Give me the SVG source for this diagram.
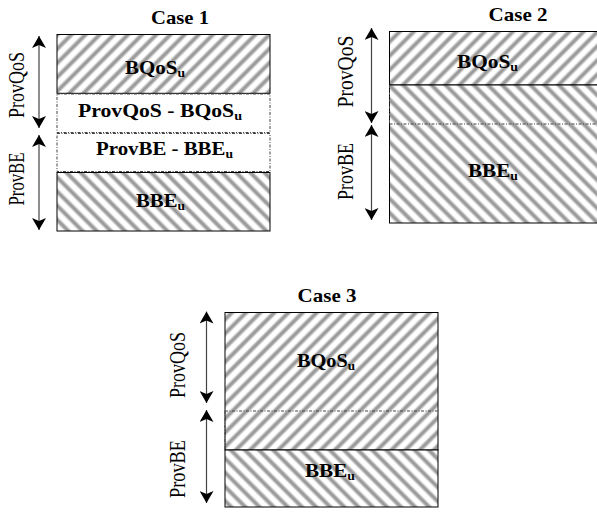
<svg xmlns="http://www.w3.org/2000/svg" width="597" height="513" viewBox="0 0 597 513">
<defs>
  <pattern id="hatchUp" width="10" height="10" patternUnits="userSpaceOnUse" patternTransform="rotate(45)">
    <rect width="10" height="10" fill="#ffffff"/>
    <rect x="2.5" y="0" width="5" height="10" fill="#cfcfcf"/>
    <rect x="3.5" y="0" width="3" height="10" fill="#9a9a9a"/>
  </pattern>
  <pattern id="hatchDown" width="10" height="10" patternUnits="userSpaceOnUse" patternTransform="rotate(-45)">
    <rect width="10" height="10" fill="#ffffff"/>
    <rect x="2.5" y="0" width="5" height="10" fill="#cfcfcf"/>
    <rect x="3.5" y="0" width="3" height="10" fill="#9a9a9a"/>
  </pattern>
  <marker id="head" viewBox="0 0 12 14" refX="12" refY="7" markerWidth="12" markerHeight="14" markerUnits="userSpaceOnUse" orient="auto-start-reverse">
    <path d="M0,0 L12,7 L0,14 L3,7 Z" fill="#000"/>
  </marker>
</defs>
<style>
  .solid { stroke:#000; stroke-width:1; }
  .dot { fill:none; stroke:#444; stroke-width:1; stroke-dasharray:3 1.5 1 1.5; }
  .lbl { font-family:"Liberation Serif","Times New Roman",serif; font-weight:bold; font-size:18.5px; fill:#000; }
  .ttl { font-family:"Liberation Serif","Times New Roman",serif; font-weight:bold; font-size:19px; fill:#000; text-anchor:middle; }
  .side { font-family:"Liberation Serif","Times New Roman",serif; font-size:18px; fill:#000; text-anchor:middle; }
  .arr { stroke:#444; stroke-width:1.2; fill:none; marker-start:url(#head); marker-end:url(#head); }
  .sub { font-size:12px; }
</style>

<g id="case1">
  <text class="ttl" x="180" y="24" textLength="58" lengthAdjust="spacingAndGlyphs">Case 1</text>
  <rect x="57" y="34.5" width="213" height="58.8" fill="url(#hatchUp)" class="solid"/>
  <rect x="57" y="94" width="213" height="38.5" class="dot"/>
  <rect x="57" y="133.5" width="213" height="38" class="dot"/>
  <rect x="57" y="172.5" width="213" height="58.5" fill="url(#hatchDown)" class="solid"/>
  <text class="lbl" x="125" y="74" textLength="60" lengthAdjust="spacingAndGlyphs">BQoS<tspan class="sub" dy="3">u</tspan></text>
  <text class="lbl" x="78" y="117" textLength="164" lengthAdjust="spacingAndGlyphs">ProvQoS - BQoS<tspan class="sub" dy="3">u</tspan></text>
  <text class="lbl" x="96" y="155" textLength="137" lengthAdjust="spacingAndGlyphs">ProvBE - BBE<tspan class="sub" dy="3">u</tspan></text>
  <text class="lbl" x="136" y="206.5" textLength="49" lengthAdjust="spacingAndGlyphs">BBE<tspan class="sub" dy="3">u</tspan></text>
  <text class="side" transform="translate(24,85) scale(1.25,1) rotate(-90)" textLength="66" lengthAdjust="spacingAndGlyphs">ProvQoS</text>
  <text class="side" transform="translate(24,179) scale(1.25,1) rotate(-90)" textLength="53" lengthAdjust="spacingAndGlyphs">ProvBE</text>
</g>

<g id="case2">
  <text class="ttl" x="518" y="21" textLength="59" lengthAdjust="spacingAndGlyphs">Case 2</text>
  <rect x="389.5" y="31.5" width="210" height="53.5" fill="url(#hatchUp)" class="solid"/>
  <rect x="389.5" y="85" width="210" height="138" fill="url(#hatchDown)" class="solid"/>
  <line x1="389.5" y1="85" x2="389.5" y2="124" class="dot"/>
  <line x1="389.5" y1="124" x2="597" y2="124" class="dot"/>
  <text class="lbl" x="457" y="68" textLength="61" lengthAdjust="spacingAndGlyphs">BQoS<tspan class="sub" dy="3">u</tspan></text>
  <text class="lbl" x="468" y="177" textLength="50" lengthAdjust="spacingAndGlyphs">BBE<tspan class="sub" dy="3">u</tspan></text>
  <text class="side" transform="translate(353,71.5) scale(1.25,1) rotate(-90)" textLength="72" lengthAdjust="spacingAndGlyphs">ProvQoS</text>
  <text class="side" transform="translate(353,171.5) scale(1.25,1) rotate(-90)" textLength="57" lengthAdjust="spacingAndGlyphs">ProvBE</text>
</g>

<g id="case3">
  <text class="ttl" x="327" y="301.5" textLength="59" lengthAdjust="spacingAndGlyphs">Case 3</text>
  <rect x="225" y="312.5" width="213" height="137.5" fill="url(#hatchUp)" class="solid"/>
  <rect x="225" y="450" width="213" height="57" fill="url(#hatchDown)" class="solid"/>
  <line x1="225" y1="411" x2="438" y2="411" class="dot"/>
  <line x1="225" y1="411" x2="225" y2="450" class="dot"/>
  <text class="lbl" x="297" y="366.5" textLength="58" lengthAdjust="spacingAndGlyphs">BQoS<tspan class="sub" dy="3">u</tspan></text>
  <text class="lbl" x="305" y="476.5" textLength="50" lengthAdjust="spacingAndGlyphs">BBE<tspan class="sub" dy="3">u</tspan></text>
  <text class="side" transform="translate(184.5,365) scale(1.25,1) rotate(-90)" textLength="66" lengthAdjust="spacingAndGlyphs">ProvQoS</text>
  <text class="side" transform="translate(184.5,469) scale(1.25,1) rotate(-90)" textLength="58" lengthAdjust="spacingAndGlyphs">ProvBE</text>
</g>

<g id="connectors">
  <line class="arr" x1="39" y1="36" x2="39" y2="128"/>
  <line class="arr" x1="39" y1="135" x2="39" y2="230"/>
  <line class="arr" x1="371.5" y1="28" x2="371.5" y2="123"/>
  <line class="arr" x1="371.5" y1="125" x2="371.5" y2="220"/>
  <line class="arr" x1="206.5" y1="311.5" x2="206.5" y2="403"/>
  <line class="arr" x1="206.5" y1="410" x2="206.5" y2="503"/>
</g>
</svg>
